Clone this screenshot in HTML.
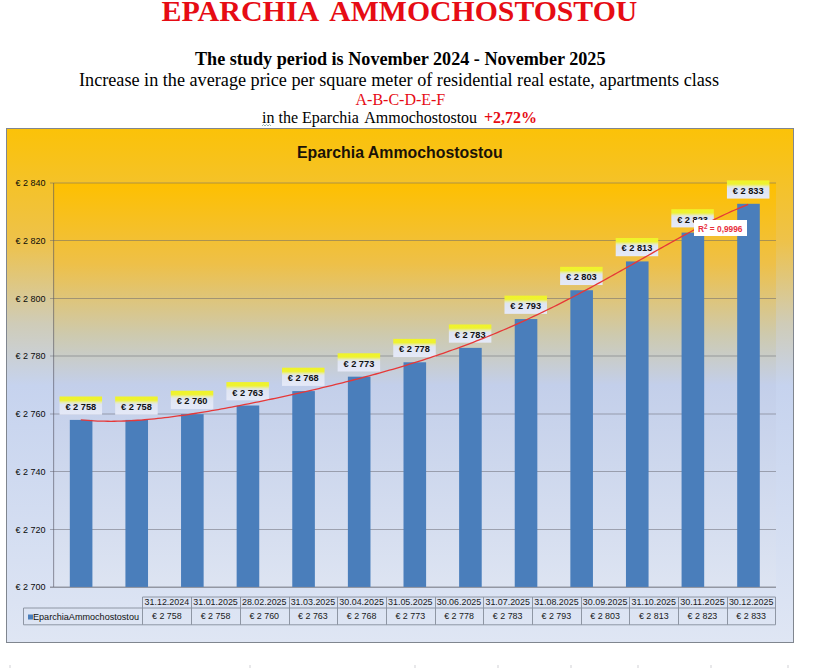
<!DOCTYPE html>
<html><head><meta charset="utf-8"><style>
html,body{margin:0;padding:0;background:#fff;width:814px;height:668px;overflow:hidden}
svg{position:absolute;left:0;top:0}
</style></head><body>
<svg width="814" height="668" viewBox="0 0 814 668">
<defs>
<linearGradient id="cbg" x1="0" y1="0" x2="0" y2="1">
<stop offset="0" stop-color="#FBC208"/>
<stop offset="0.22" stop-color="#EEC24A"/>
<stop offset="0.38" stop-color="#CFCCB8"/>
<stop offset="0.5" stop-color="#C6D3EE"/>
<stop offset="1" stop-color="#DFE6F4"/>
</linearGradient>
<linearGradient id="pbg" x1="0" y1="0" x2="0" y2="1">
<stop offset="0" stop-color="#FEC000"/>
<stop offset="0.2" stop-color="#EEC048"/>
<stop offset="0.38" stop-color="#CDCAB0"/>
<stop offset="0.5" stop-color="#C3CFEA"/>
<stop offset="1" stop-color="#DDE4F2"/>
</linearGradient>
<linearGradient id="lbl" x1="0" y1="0" x2="0" y2="1">
<stop offset="0" stop-color="#F0F428"/>
<stop offset="0.2" stop-color="#EEF232"/>
<stop offset="0.34" stop-color="#E6EAC0"/>
<stop offset="0.44" stop-color="#DFE5F2"/>
<stop offset="1" stop-color="#E5E9F8"/>
</linearGradient>
</defs>

<g font-family="Liberation Serif, serif">
<text y="21" font-size="30" font-weight="bold" fill="#E60C14"><tspan x="161.5">EPARCHIA</tspan><tspan x="329.3" textLength="308" lengthAdjust="spacingAndGlyphs">AMMOCHOSTOSTOU</tspan></text>
<text x="195" y="64.5" font-size="18" font-weight="bold" fill="#000" textLength="410.5" lengthAdjust="spacingAndGlyphs">The study period is November 2024 - November 2025</text>
<text x="79" y="85.5" font-size="18" fill="#000" textLength="640" lengthAdjust="spacingAndGlyphs">Increase in the average price per square meter of residential real estate, apartments class</text>
<text x="355.5" y="104.5" font-size="16" fill="#E60C14">A-B-C-D-E-F</text>
<text y="123" font-size="16" fill="#000"><tspan x="262">in the Eparchia</tspan><tspan x="364.2">Ammochostostou</tspan></text>
<text x="484" y="123" font-size="16" font-weight="bold" fill="#E60C14">+2,72%</text>
<path d="M262 126 l1.5 -1.5 l1.5 1.5 l1.5 -1.5 l1.5 1.5 l1.5 -1.5 l1.5 1.5" fill="none" stroke="#7aa0a0" stroke-width="0.8"/>
</g>
<rect x="6.5" y="128.5" width="787" height="514" fill="url(#cbg)" stroke="#80868F" stroke-width="1"/>
<text x="297" y="158.3" font-family="Liberation Sans, sans-serif" font-size="15.8" font-weight="bold" fill="#1a1208" textLength="205.7" lengthAdjust="spacingAndGlyphs">Eparchia Ammochostostou</text>
<rect x="53" y="183" width="723" height="404" fill="url(#pbg)"/>
<line x1="50" y1="183.0" x2="776" y2="183.0" stroke="rgba(100,100,110,0.5)" stroke-width="1"/>
<text x="45.5" y="186.2" font-family="Liberation Sans, sans-serif" font-size="9" fill="#0a0a0a" text-anchor="end">€ 2 840</text>
<line x1="50" y1="240.5" x2="776" y2="240.5" stroke="rgba(100,100,110,0.5)" stroke-width="1"/>
<text x="45.5" y="243.9" font-family="Liberation Sans, sans-serif" font-size="9" fill="#0a0a0a" text-anchor="end">€ 2 820</text>
<line x1="50" y1="298.5" x2="776" y2="298.5" stroke="rgba(100,100,110,0.5)" stroke-width="1"/>
<text x="45.5" y="301.6" font-family="Liberation Sans, sans-serif" font-size="9" fill="#0a0a0a" text-anchor="end">€ 2 800</text>
<line x1="50" y1="356.0" x2="776" y2="356.0" stroke="rgba(100,100,110,0.5)" stroke-width="1"/>
<text x="45.5" y="359.3" font-family="Liberation Sans, sans-serif" font-size="9" fill="#0a0a0a" text-anchor="end">€ 2 780</text>
<line x1="50" y1="414.0" x2="776" y2="414.0" stroke="rgba(100,100,110,0.5)" stroke-width="1"/>
<text x="45.5" y="417.1" font-family="Liberation Sans, sans-serif" font-size="9" fill="#0a0a0a" text-anchor="end">€ 2 760</text>
<line x1="50" y1="471.5" x2="776" y2="471.5" stroke="rgba(100,100,110,0.5)" stroke-width="1"/>
<text x="45.5" y="474.8" font-family="Liberation Sans, sans-serif" font-size="9" fill="#0a0a0a" text-anchor="end">€ 2 740</text>
<line x1="50" y1="529.5" x2="776" y2="529.5" stroke="rgba(100,100,110,0.5)" stroke-width="1"/>
<text x="45.5" y="532.5" font-family="Liberation Sans, sans-serif" font-size="9" fill="#0a0a0a" text-anchor="end">€ 2 720</text>
<line x1="50" y1="587.0" x2="776" y2="587.0" stroke="rgba(100,100,110,0.5)" stroke-width="1"/>
<text x="45.5" y="590.2" font-family="Liberation Sans, sans-serif" font-size="9" fill="#0a0a0a" text-anchor="end">€ 2 700</text>
<line x1="53.6" y1="183" x2="53.6" y2="587" stroke="rgba(90,90,105,0.6)" stroke-width="1.1"/>
<rect x="69.81" y="419.91" width="22.6" height="167.09" fill="#4A7EBB"/>
<rect x="125.42" y="419.91" width="22.6" height="167.09" fill="#4A7EBB"/>
<rect x="181.04" y="414.14" width="22.6" height="172.86" fill="#4A7EBB"/>
<rect x="236.65" y="405.50" width="22.6" height="181.50" fill="#4A7EBB"/>
<rect x="292.27" y="391.09" width="22.6" height="195.91" fill="#4A7EBB"/>
<rect x="347.88" y="376.68" width="22.6" height="210.32" fill="#4A7EBB"/>
<rect x="403.50" y="362.28" width="22.6" height="224.72" fill="#4A7EBB"/>
<rect x="459.12" y="347.87" width="22.6" height="239.13" fill="#4A7EBB"/>
<rect x="514.73" y="319.05" width="22.6" height="267.95" fill="#4A7EBB"/>
<rect x="570.35" y="290.24" width="22.6" height="296.76" fill="#4A7EBB"/>
<rect x="625.96" y="261.42" width="22.6" height="325.58" fill="#4A7EBB"/>
<rect x="681.58" y="232.60" width="22.6" height="354.40" fill="#4A7EBB"/>
<rect x="737.19" y="203.79" width="22.6" height="383.21" fill="#4A7EBB"/>
<line x1="50" y1="587.4" x2="776" y2="587.4" stroke="#8E929E" stroke-width="1"/>
<rect x="59.56" y="396.51" width="42.5" height="18.2" fill="url(#lbl)"/>
<text x="80.81" y="409.91" font-family="Liberation Sans, sans-serif" font-size="9.5" font-weight="bold" fill="#111" text-anchor="middle" textLength="30.8" lengthAdjust="spacingAndGlyphs">€ 2 758</text>
<rect x="115.17" y="396.51" width="42.5" height="18.2" fill="url(#lbl)"/>
<text x="136.42" y="409.91" font-family="Liberation Sans, sans-serif" font-size="9.5" font-weight="bold" fill="#111" text-anchor="middle" textLength="30.8" lengthAdjust="spacingAndGlyphs">€ 2 758</text>
<rect x="170.79" y="390.74" width="42.5" height="18.2" fill="url(#lbl)"/>
<text x="192.04" y="404.14" font-family="Liberation Sans, sans-serif" font-size="9.5" font-weight="bold" fill="#111" text-anchor="middle" textLength="30.8" lengthAdjust="spacingAndGlyphs">€ 2 760</text>
<rect x="226.40" y="382.10" width="42.5" height="18.2" fill="url(#lbl)"/>
<text x="247.65" y="395.50" font-family="Liberation Sans, sans-serif" font-size="9.5" font-weight="bold" fill="#111" text-anchor="middle" textLength="30.8" lengthAdjust="spacingAndGlyphs">€ 2 763</text>
<rect x="282.02" y="367.69" width="42.5" height="18.2" fill="url(#lbl)"/>
<text x="303.27" y="381.09" font-family="Liberation Sans, sans-serif" font-size="9.5" font-weight="bold" fill="#111" text-anchor="middle" textLength="30.8" lengthAdjust="spacingAndGlyphs">€ 2 768</text>
<rect x="337.63" y="353.28" width="42.5" height="18.2" fill="url(#lbl)"/>
<text x="358.88" y="366.68" font-family="Liberation Sans, sans-serif" font-size="9.5" font-weight="bold" fill="#111" text-anchor="middle" textLength="30.8" lengthAdjust="spacingAndGlyphs">€ 2 773</text>
<rect x="393.25" y="338.88" width="42.5" height="18.2" fill="url(#lbl)"/>
<text x="414.50" y="352.28" font-family="Liberation Sans, sans-serif" font-size="9.5" font-weight="bold" fill="#111" text-anchor="middle" textLength="30.8" lengthAdjust="spacingAndGlyphs">€ 2 778</text>
<rect x="448.87" y="324.47" width="42.5" height="18.2" fill="url(#lbl)"/>
<text x="470.12" y="337.87" font-family="Liberation Sans, sans-serif" font-size="9.5" font-weight="bold" fill="#111" text-anchor="middle" textLength="30.8" lengthAdjust="spacingAndGlyphs">€ 2 783</text>
<rect x="504.48" y="295.65" width="42.5" height="18.2" fill="url(#lbl)"/>
<text x="525.73" y="309.05" font-family="Liberation Sans, sans-serif" font-size="9.5" font-weight="bold" fill="#111" text-anchor="middle" textLength="30.8" lengthAdjust="spacingAndGlyphs">€ 2 793</text>
<rect x="560.10" y="266.84" width="42.5" height="18.2" fill="url(#lbl)"/>
<text x="581.35" y="280.24" font-family="Liberation Sans, sans-serif" font-size="9.5" font-weight="bold" fill="#111" text-anchor="middle" textLength="30.8" lengthAdjust="spacingAndGlyphs">€ 2 803</text>
<rect x="615.71" y="238.02" width="42.5" height="18.2" fill="url(#lbl)"/>
<text x="636.96" y="251.42" font-family="Liberation Sans, sans-serif" font-size="9.5" font-weight="bold" fill="#111" text-anchor="middle" textLength="30.8" lengthAdjust="spacingAndGlyphs">€ 2 813</text>
<rect x="671.33" y="209.20" width="42.5" height="18.2" fill="url(#lbl)"/>
<text x="692.58" y="222.60" font-family="Liberation Sans, sans-serif" font-size="9.5" font-weight="bold" fill="#111" text-anchor="middle" textLength="30.8" lengthAdjust="spacingAndGlyphs">€ 2 823</text>
<rect x="726.94" y="180.39" width="42.5" height="18.2" fill="url(#lbl)"/>
<text x="748.19" y="193.79" font-family="Liberation Sans, sans-serif" font-size="9.5" font-weight="bold" fill="#111" text-anchor="middle" textLength="30.8" lengthAdjust="spacingAndGlyphs">€ 2 833</text>
<polyline points="80.81,419.83 84.16,420.15 87.52,420.43 90.87,420.67 94.22,420.87 97.58,421.03 100.93,421.14 104.28,421.22 107.64,421.27 110.99,421.28 114.34,421.26 117.70,421.20 121.05,421.12 124.41,421.00 127.76,420.86 131.11,420.69 134.47,420.49 137.82,420.27 141.17,420.03 144.53,419.76 147.88,419.46 151.24,419.15 154.59,418.82 157.94,418.46 161.30,418.09 164.65,417.70 168.00,417.29 171.36,416.87 174.71,416.43 178.06,415.97 181.42,415.50 184.77,415.02 188.13,414.52 191.48,414.01 194.83,413.49 198.19,412.95 201.54,412.41 204.89,411.85 208.25,411.29 211.60,410.71 214.96,410.12 218.31,409.53 221.66,408.93 225.02,408.31 228.37,407.69 231.72,407.06 235.08,406.43 238.43,405.79 241.78,405.14 245.14,404.48 248.49,403.82 251.85,403.15 255.20,402.47 258.55,401.79 261.91,401.10 265.26,400.40 268.61,399.70 271.97,399.00 275.32,398.29 278.68,397.57 282.03,396.84 285.38,396.12 288.74,395.38 292.09,394.64 295.44,393.89 298.80,393.14 302.15,392.38 305.51,391.62 308.86,390.85 312.21,390.08 315.57,389.29 318.92,388.51 322.27,387.71 325.63,386.91 328.98,386.10 332.33,385.29 335.69,384.47 339.04,383.64 342.40,382.80 345.75,381.96 349.10,381.11 352.46,380.25 355.81,379.38 359.16,378.51 362.52,377.62 365.87,376.73 369.23,375.83 372.58,374.92 375.93,374.00 379.29,373.07 382.64,372.13 385.99,371.18 389.35,370.22 392.70,369.26 396.05,368.28 399.41,367.28 402.76,366.28 406.12,365.27 409.47,364.24 412.82,363.21 416.18,362.16 419.53,361.10 422.88,360.02 426.24,358.94 429.59,357.84 432.95,356.73 436.30,355.60 439.65,354.46 443.01,353.31 446.36,352.14 449.71,350.96 453.07,349.76 456.42,348.55 459.77,347.33 463.13,346.09 466.48,344.83 469.84,343.57 473.19,342.28 476.54,340.98 479.90,339.66 483.25,338.33 486.60,336.99 489.96,335.62 493.31,334.25 496.67,332.85 500.02,331.44 503.37,330.01 506.73,328.57 510.08,327.11 513.43,325.64 516.79,324.15 520.14,322.64 523.49,321.12 526.85,319.58 530.20,318.03 533.56,316.46 536.91,314.88 540.26,313.27 543.62,311.66 546.97,310.03 550.32,308.38 553.68,306.72 557.03,305.05 560.39,303.36 563.74,301.65 567.09,299.94 570.45,298.21 573.80,296.46 577.15,294.71 580.51,292.94 583.86,291.16 587.22,289.36 590.57,287.56 593.92,285.74 597.28,283.92 600.63,282.09 603.98,280.24 607.34,278.39 610.69,276.53 614.04,274.66 617.40,272.79 620.75,270.90 624.11,269.02 627.46,267.13 630.81,265.23 634.17,263.33 637.52,261.43 640.87,259.53 644.23,257.63 647.58,255.72 650.94,253.82 654.29,251.92 657.64,250.02 661.00,248.13 664.35,246.24 667.70,244.36 671.06,242.49 674.41,240.62 677.76,238.76 681.12,236.92 684.47,235.08 687.83,233.26 691.18,231.46 694.53,229.67 697.89,227.89 701.24,226.14 704.59,224.41 707.95,222.70 711.30,221.01 714.66,219.35 718.01,217.71 721.36,216.10 724.72,214.52 728.07,212.98 731.42,211.46 734.78,209.99 738.13,208.54 741.48,207.14 744.84,205.78 748.19,204.47" fill="none" stroke="#E63838" stroke-width="1.3"/>
<rect x="694" y="220" width="53" height="16" fill="#fff"/>
<text x="698" y="231.5" font-family="Liberation Sans, sans-serif" font-size="8.6" font-weight="bold" fill="#E8303C" textLength="44.5" lengthAdjust="spacingAndGlyphs">R<tspan font-size="6.5" dy="-3">2</tspan><tspan dy="3"> = 0,9996</tspan></text>
<path d="M142.5 597.0 H775.5 V624.8 H23.5 V608.0 H775.5 M142.5 597.0 V624.8" fill="none" stroke="#8E96A4" stroke-width="1"/>
<line x1="191.5" y1="597.0" x2="191.5" y2="624.8" stroke="#8E96A4" stroke-width="1"/>
<line x1="240.5" y1="597.0" x2="240.5" y2="624.8" stroke="#8E96A4" stroke-width="1"/>
<line x1="289.5" y1="597.0" x2="289.5" y2="624.8" stroke="#8E96A4" stroke-width="1"/>
<line x1="337.5" y1="597.0" x2="337.5" y2="624.8" stroke="#8E96A4" stroke-width="1"/>
<line x1="386.5" y1="597.0" x2="386.5" y2="624.8" stroke="#8E96A4" stroke-width="1"/>
<line x1="435.5" y1="597.0" x2="435.5" y2="624.8" stroke="#8E96A4" stroke-width="1"/>
<line x1="483.5" y1="597.0" x2="483.5" y2="624.8" stroke="#8E96A4" stroke-width="1"/>
<line x1="532.5" y1="597.0" x2="532.5" y2="624.8" stroke="#8E96A4" stroke-width="1"/>
<line x1="581.5" y1="597.0" x2="581.5" y2="624.8" stroke="#8E96A4" stroke-width="1"/>
<line x1="629.5" y1="597.0" x2="629.5" y2="624.8" stroke="#8E96A4" stroke-width="1"/>
<line x1="678.5" y1="597.0" x2="678.5" y2="624.8" stroke="#8E96A4" stroke-width="1"/>
<line x1="727.5" y1="597.0" x2="727.5" y2="624.8" stroke="#8E96A4" stroke-width="1"/>
<text x="166.85" y="605.3" font-family="Liberation Sans, sans-serif" font-size="9.3" fill="#1a1a1a" text-anchor="middle" textLength="44.5" lengthAdjust="spacingAndGlyphs">31.12.2024</text>
<text x="166.85" y="619.3" font-family="Liberation Sans, sans-serif" font-size="9.3" fill="#1a1a1a" text-anchor="middle" textLength="29.7" lengthAdjust="spacingAndGlyphs">€ 2 758</text>
<text x="215.54" y="605.3" font-family="Liberation Sans, sans-serif" font-size="9.3" fill="#1a1a1a" text-anchor="middle" textLength="44.5" lengthAdjust="spacingAndGlyphs">31.01.2025</text>
<text x="215.54" y="619.3" font-family="Liberation Sans, sans-serif" font-size="9.3" fill="#1a1a1a" text-anchor="middle" textLength="29.7" lengthAdjust="spacingAndGlyphs">€ 2 758</text>
<text x="264.23" y="605.3" font-family="Liberation Sans, sans-serif" font-size="9.3" fill="#1a1a1a" text-anchor="middle" textLength="44.5" lengthAdjust="spacingAndGlyphs">28.02.2025</text>
<text x="264.23" y="619.3" font-family="Liberation Sans, sans-serif" font-size="9.3" fill="#1a1a1a" text-anchor="middle" textLength="29.7" lengthAdjust="spacingAndGlyphs">€ 2 760</text>
<text x="312.92" y="605.3" font-family="Liberation Sans, sans-serif" font-size="9.3" fill="#1a1a1a" text-anchor="middle" textLength="44.5" lengthAdjust="spacingAndGlyphs">31.03.2025</text>
<text x="312.92" y="619.3" font-family="Liberation Sans, sans-serif" font-size="9.3" fill="#1a1a1a" text-anchor="middle" textLength="29.7" lengthAdjust="spacingAndGlyphs">€ 2 763</text>
<text x="361.62" y="605.3" font-family="Liberation Sans, sans-serif" font-size="9.3" fill="#1a1a1a" text-anchor="middle" textLength="44.5" lengthAdjust="spacingAndGlyphs">30.04.2025</text>
<text x="361.62" y="619.3" font-family="Liberation Sans, sans-serif" font-size="9.3" fill="#1a1a1a" text-anchor="middle" textLength="29.7" lengthAdjust="spacingAndGlyphs">€ 2 768</text>
<text x="410.31" y="605.3" font-family="Liberation Sans, sans-serif" font-size="9.3" fill="#1a1a1a" text-anchor="middle" textLength="44.5" lengthAdjust="spacingAndGlyphs">31.05.2025</text>
<text x="410.31" y="619.3" font-family="Liberation Sans, sans-serif" font-size="9.3" fill="#1a1a1a" text-anchor="middle" textLength="29.7" lengthAdjust="spacingAndGlyphs">€ 2 773</text>
<text x="459.00" y="605.3" font-family="Liberation Sans, sans-serif" font-size="9.3" fill="#1a1a1a" text-anchor="middle" textLength="44.5" lengthAdjust="spacingAndGlyphs">30.06.2025</text>
<text x="459.00" y="619.3" font-family="Liberation Sans, sans-serif" font-size="9.3" fill="#1a1a1a" text-anchor="middle" textLength="29.7" lengthAdjust="spacingAndGlyphs">€ 2 778</text>
<text x="507.69" y="605.3" font-family="Liberation Sans, sans-serif" font-size="9.3" fill="#1a1a1a" text-anchor="middle" textLength="44.5" lengthAdjust="spacingAndGlyphs">31.07.2025</text>
<text x="507.69" y="619.3" font-family="Liberation Sans, sans-serif" font-size="9.3" fill="#1a1a1a" text-anchor="middle" textLength="29.7" lengthAdjust="spacingAndGlyphs">€ 2 783</text>
<text x="556.38" y="605.3" font-family="Liberation Sans, sans-serif" font-size="9.3" fill="#1a1a1a" text-anchor="middle" textLength="44.5" lengthAdjust="spacingAndGlyphs">31.08.2025</text>
<text x="556.38" y="619.3" font-family="Liberation Sans, sans-serif" font-size="9.3" fill="#1a1a1a" text-anchor="middle" textLength="29.7" lengthAdjust="spacingAndGlyphs">€ 2 793</text>
<text x="605.08" y="605.3" font-family="Liberation Sans, sans-serif" font-size="9.3" fill="#1a1a1a" text-anchor="middle" textLength="44.5" lengthAdjust="spacingAndGlyphs">30.09.2025</text>
<text x="605.08" y="619.3" font-family="Liberation Sans, sans-serif" font-size="9.3" fill="#1a1a1a" text-anchor="middle" textLength="29.7" lengthAdjust="spacingAndGlyphs">€ 2 803</text>
<text x="653.77" y="605.3" font-family="Liberation Sans, sans-serif" font-size="9.3" fill="#1a1a1a" text-anchor="middle" textLength="44.5" lengthAdjust="spacingAndGlyphs">31.10.2025</text>
<text x="653.77" y="619.3" font-family="Liberation Sans, sans-serif" font-size="9.3" fill="#1a1a1a" text-anchor="middle" textLength="29.7" lengthAdjust="spacingAndGlyphs">€ 2 813</text>
<text x="702.46" y="605.3" font-family="Liberation Sans, sans-serif" font-size="9.3" fill="#1a1a1a" text-anchor="middle" textLength="44.5" lengthAdjust="spacingAndGlyphs">30.11.2025</text>
<text x="702.46" y="619.3" font-family="Liberation Sans, sans-serif" font-size="9.3" fill="#1a1a1a" text-anchor="middle" textLength="29.7" lengthAdjust="spacingAndGlyphs">€ 2 823</text>
<text x="751.15" y="605.3" font-family="Liberation Sans, sans-serif" font-size="9.3" fill="#1a1a1a" text-anchor="middle" textLength="44.5" lengthAdjust="spacingAndGlyphs">30.12.2025</text>
<text x="751.15" y="619.3" font-family="Liberation Sans, sans-serif" font-size="9.3" fill="#1a1a1a" text-anchor="middle" textLength="29.7" lengthAdjust="spacingAndGlyphs">€ 2 833</text>
<rect x="28" y="614.5" width="5" height="5" fill="#4A7EBB"/>
<text x="33" y="619.5" font-family="Liberation Sans, sans-serif" font-size="9.8" fill="#111" textLength="106" lengthAdjust="spacingAndGlyphs">EparchiaAmmochostostou</text>
<rect x="9" y="665" width="2" height="3" fill="#d8d8dc" opacity="0.6"/>
<rect x="249" y="665" width="2" height="3" fill="#d8d8dc" opacity="0.6"/>
<rect x="414" y="665" width="2" height="3" fill="#d8d8dc" opacity="0.6"/>
<rect x="497" y="665" width="2" height="3" fill="#d8d8dc" opacity="0.6"/>
<rect x="570" y="665" width="2" height="3" fill="#d8d8dc" opacity="0.6"/>
<rect x="637" y="665" width="2" height="3" fill="#d8d8dc" opacity="0.6"/>
<rect x="710" y="665" width="2" height="3" fill="#d8d8dc" opacity="0.6"/>
<rect x="787" y="665" width="2" height="3" fill="#d8d8dc" opacity="0.6"/>
</svg></body></html>
